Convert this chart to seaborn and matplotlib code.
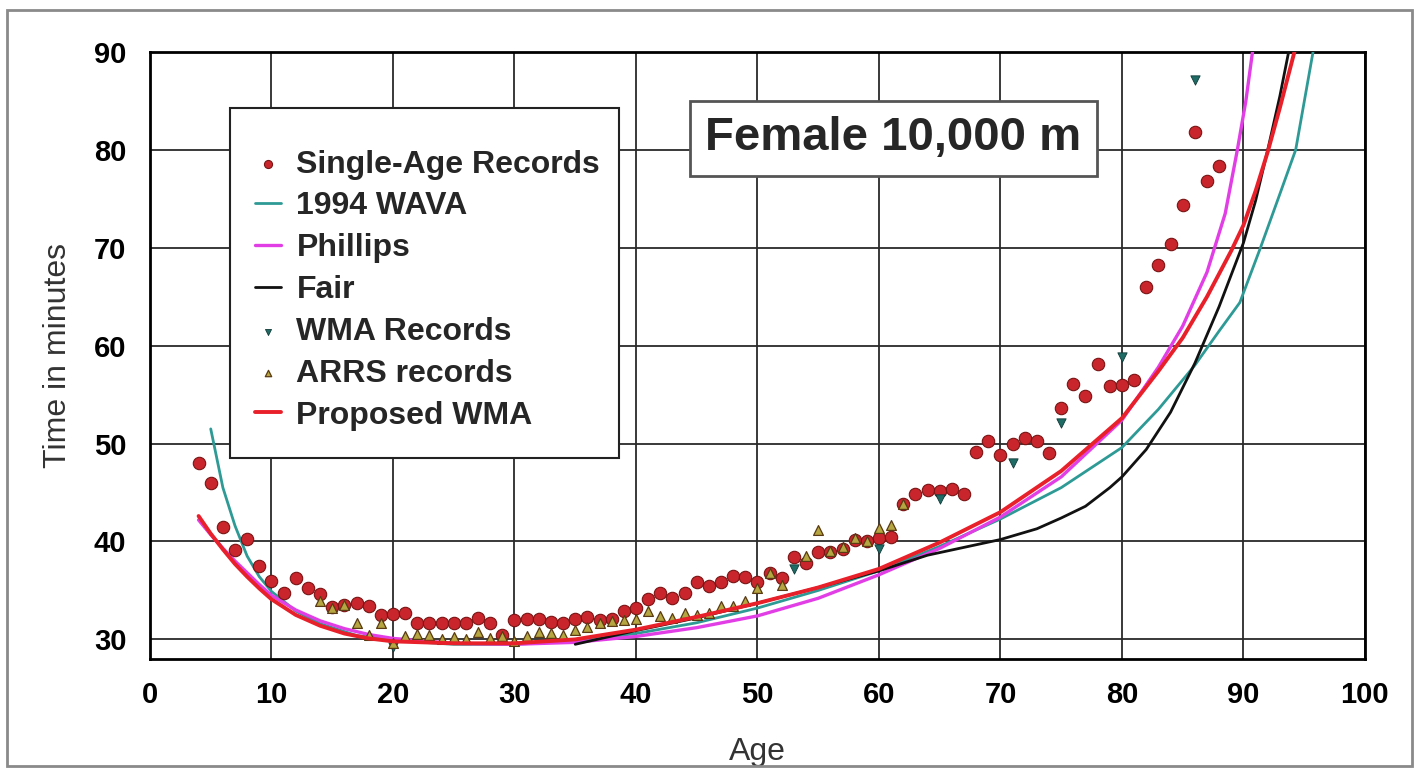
import seaborn as sns
import matplotlib.pyplot as plt
from matplotlib.patches import Rectangle

# Single-age records (red circles)
single_age = list(range(4, 89))
single_time = [48.0, 46.0, 41.5, 39.1, 40.3, 37.5, 36.0, 34.7, 36.3, 35.3,
               34.6, 33.3, 33.5, 33.7, 33.4, 32.5, 32.6, 32.7, 31.7, 31.7,
               31.7, 31.7, 31.7, 32.2, 31.7, 30.4, 32.0, 32.1, 32.1, 31.8,
               31.7, 32.1, 32.3, 32.0, 32.1, 32.9, 33.2, 34.1, 34.7, 34.2,
               34.7, 35.9, 35.5, 35.9, 36.5, 36.4, 35.9, 36.8, 36.3, 38.4,
               37.8, 38.9, 38.9, 39.2, 40.2, 40.0, 40.4, 40.5, 43.8, 44.8,
               45.3, 45.2, 45.4, 44.9, 49.1, 50.3, 48.8, 50.0, 50.6, 50.3,
               49.0, 53.6, 56.1, 54.9, 58.1, 55.9, 56.0, 56.5, 66.0, 68.2,
               70.4, 74.4, 81.8, 76.8, 78.4]

# WMA records (down triangles)
wma_age = [20, 53, 60, 65, 71, 75, 80, 86]
wma_time = [29.2, 37.2, 39.2, 44.3, 48.0, 52.1, 58.8, 87.1]

# ARRS records (up triangles)
arrs_age = [14, 15, 16, 17, 18, 19, 20, 21, 22, 23, 24, 25, 26, 27, 28, 29,
            30, 31, 32, 33, 34, 35, 36, 37, 38, 39, 40, 41, 42, 43, 44, 45,
            46, 47, 48, 49, 50, 51, 52, 54, 55, 56, 57, 58, 59, 60, 61, 62]
arrs_time = [33.9, 33.2, 33.5, 31.7, 30.5, 31.7, 29.6, 30.3, 30.6, 30.5,
             30.0, 30.2, 30.0, 30.8, 30.1, 30.3, 29.8, 30.3, 30.8, 30.7,
             30.4, 31.0, 31.3, 31.7, 31.9, 32.0, 32.1, 32.9, 32.4, 32.2,
             32.7, 32.5, 32.7, 33.4, 33.4, 33.9, 35.3, 36.8, 35.6, 38.5,
             41.2, 39.0, 39.4, 40.4, 40.0, 41.4, 41.7, 43.8]

# 1994 WAVA curve
wava_age = [5, 6, 7, 8, 9, 10, 12, 14, 17, 20, 25, 30, 35, 40, 45, 50, 55,
            60, 65, 70, 75, 80, 83, 86, 88, 89.7, 91.4, 93, 94.3, 95.8]
wava_time = [51.5, 45.5, 41.6, 38.5, 36.4, 34.9, 32.9, 31.6, 30.4, 29.9,
             29.5, 29.5, 29.8, 30.6, 31.7, 33.2, 35.0, 37.0, 39.5, 42.3,
             45.5, 49.6, 53.5, 58.0, 61.5, 64.4, 70.0, 75.5, 80.0, 90.5]

# Phillips curve
phil_age = [4, 5, 6, 7, 8, 9, 10, 12, 14, 16, 18, 20, 25, 30, 35, 40, 45,
            50, 55, 60, 65, 70, 75, 80, 83, 85, 87, 88.5, 89.5, 90.2, 90.8]
phil_time = [42.2, 40.7, 39.3, 38.0, 36.8, 35.6, 34.5, 33.0, 31.9, 31.1,
             30.5, 30.1, 29.6, 29.5, 29.7, 30.3, 31.2, 32.4, 34.2, 36.6,
             39.3, 42.5, 46.6, 52.4, 57.8, 62.0, 67.5, 73.5, 80.0, 85.0, 90.5]

# Fair curve
fair_age = [35, 40, 45, 50, 55, 60, 64, 67, 70, 73, 75, 77, 79, 80, 82, 84,
            86, 88, 90, 91, 92, 93, 93.8]
fair_time = [29.5, 30.9, 32.2, 33.7, 35.3, 37.0, 38.6, 39.4, 40.2, 41.3,
             42.4, 43.6, 45.5, 46.6, 49.4, 53.2, 58.2, 64.0, 70.5, 74.8,
             80.0, 85.5, 90.5]

# Proposed WMA curve
prop_age = [4, 5, 6, 7, 8, 9, 10, 12, 14, 16, 18, 20, 25, 30, 35, 40, 45,
            50, 55, 60, 65, 70, 75, 80, 83, 85, 87, 89, 90, 91, 92, 93, 94.3]
prop_time = [42.6, 40.8, 39.2, 37.7, 36.4, 35.2, 34.1, 32.5, 31.4, 30.6,
             30.1, 29.8, 29.6, 29.6, 30.0, 31.0, 32.3, 33.7, 35.3, 37.2,
             39.9, 43.0, 47.2, 52.6, 57.4, 60.8, 65.0, 69.7, 72.3, 75.8,
             79.8, 84.3, 90.5]

sns.set_style("white")
plt.rcParams['font.family'] = ['Liberation Sans', 'DejaVu Sans']

fig = plt.figure(figsize=(14.19, 7.73), dpi=100)
ax = fig.add_axes([0.1057, 0.1475, 0.8562, 0.7853])

sns.lineplot(x=wava_age, y=wava_time, color='#2e9a96', lw=2.0, sort=False,
             estimator=None, label='1994 WAVA', ax=ax, zorder=3)
sns.lineplot(x=phil_age, y=phil_time, color='#e23ee6', lw=2.4, sort=False,
             estimator=None, label='Phillips', ax=ax, zorder=3)
sns.lineplot(x=fair_age, y=fair_time, color='#111111', lw=2.0, sort=False,
             estimator=None, label='Fair', ax=ax, zorder=3)
sns.scatterplot(x=single_age, y=single_time, color='#c9252c', edgecolor='#7a1414',
                linewidth=0.8, s=80, marker='o', label='Single-Age Records',
                ax=ax, zorder=4)
sns.scatterplot(x=wma_age, y=wma_time, color='#1f6b66', edgecolor='#0f3a38',
                linewidth=0.6, s=45, marker='v', label='WMA Records', ax=ax,
                zorder=5)
sns.scatterplot(x=arrs_age, y=arrs_time, color='#b5a642', edgecolor='#5a3a12',
                linewidth=0.9, s=50, marker='^', label='ARRS records', ax=ax,
                zorder=5)
sns.lineplot(x=prop_age, y=prop_time, color='#e8202a', lw=2.8, sort=False,
             estimator=None, label='Proposed WMA', ax=ax, zorder=6)

ax.set_xlim(0, 100)
ax.set_ylim(28, 90)
ax.set_xticks(range(0, 101, 10))
ax.set_yticks(range(30, 91, 10))
ax.grid(True, color='#2a2a2a', lw=1.3)
ax.set_axisbelow(True)
for sp in ax.spines.values():
    sp.set_color('black')
    sp.set_linewidth(2)
ax.tick_params(axis='both', length=3, width=1.2, colors='black', labelsize=21)
ax.tick_params(axis='x', pad=13)
ax.tick_params(axis='y', pad=14)
for lab in ax.get_xticklabels() + ax.get_yticklabels():
    lab.set_fontweight('bold')
ax.set_xlabel('Age', fontsize=23, color='#333333', labelpad=20)
ax.set_ylabel('Time in minutes', fontsize=23, color='#333333', labelpad=15)

# legend box drawn as its own patch, legend itself frameless
ax.add_patch(Rectangle((0.0658, 0.3311), 0.3202, 0.5766, transform=ax.transAxes,
                       fc='white', ec='#222222', lw=1.5, zorder=9))

handles, labels = ax.get_legend_handles_labels()
order = ['Single-Age Records', '1994 WAVA', 'Phillips', 'Fair',
         'WMA Records', 'ARRS records', 'Proposed WMA']
hmap = dict(zip(labels, handles))
leg = ax.legend([hmap[k] for k in order], order, loc='upper left',
                bbox_to_anchor=(0.0864, 0.839), borderaxespad=0,
                prop={'family': 'Liberation Sans', 'weight': 'bold', 'size': 23},
                frameon=False, handlelength=0.8, handletextpad=0.5,
                labelspacing=0.37, borderpad=0, markerscale=0.65)
leg.set_zorder(10)

ax.text(0.612, 0.858, 'Female 10,000 m', transform=ax.transAxes,
        ha='center', va='center', fontsize=34, fontweight='bold',
        bbox=dict(boxstyle='square,pad=0.33', fc='white', ec='#555555', lw=2),
        zorder=11)

fig.patches.append(Rectangle((7 / 1419, 1 - 766 / 773), 1405 / 1419, 756 / 773,
                             transform=fig.transFigure, fill=False,
                             ec='#8a8a8a', lw=2))

fig.savefig('out.png', dpi=100)
